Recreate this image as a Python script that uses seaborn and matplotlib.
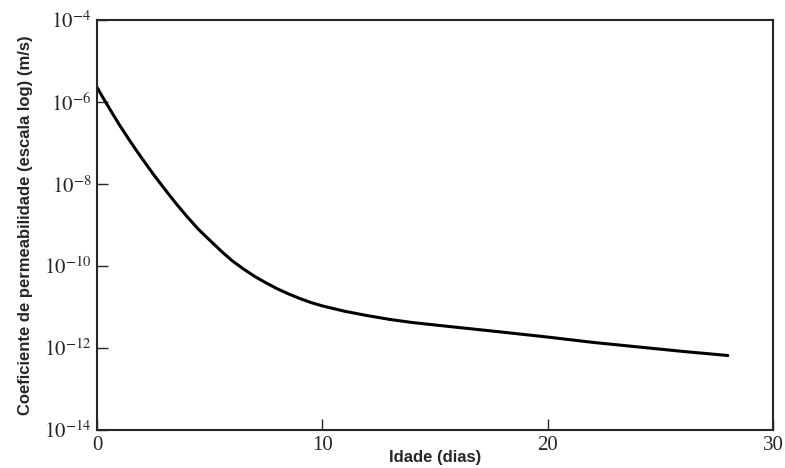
import numpy as np
import pandas as pd
import matplotlib
matplotlib.use("Agg")
import matplotlib.pyplot as plt
import seaborn as sns

sns.set_style("ticks")
plt.rcParams["font.family"] = ["Liberation Serif", "DejaVu Serif"]
plt.rcParams["mathtext.fontset"] = "stix"

# permeability vs age
idade_dias = [0, 0.25, 0.5, 0.75, 1, 1.25, 1.5, 1.75, 2, 2.5, 3, 3.5, 4, 4.5,
              5, 5.5, 6, 6.5, 7, 7.5, 8, 8.5, 9, 9.5, 10, 11, 12, 13, 14,
              16, 18, 20, 22, 24, 26, 28]
permeabilidade = [2.3e-6, 1.32e-6, 7.8e-7, 4.6e-7, 2.75e-7, 1.7e-7, 1.05e-7,
                  6.6e-8, 4.2e-8, 1.74e-8, 7.6e-9, 3.4e-9, 1.6e-9, 7.9e-10,
                  4.3e-10, 2.35e-10, 1.35e-10, 8.5e-11, 5.6e-11, 3.9e-11,
                  2.8e-11, 2.1e-11, 1.62e-11, 1.29e-11, 1.07e-11, 7.9e-12,
                  6.2e-12, 5.0e-12, 4.2e-12, 3.2e-12, 2.45e-12, 1.86e-12,
                  1.38e-12, 1.07e-12, 8.3e-13, 6.6e-13]

x_ticks = [0, 10, 20, 30]
y_ticks = [1e-14, 1e-12, 1e-10, 1e-8, 1e-6, 1e-4]
y_tick_labels = [r"$10^{-14}$", r"$10^{-12}$", r"$10^{-10}$",
                 r"$10^{-8}$", r"$10^{-6}$", r"$10^{-4}$"]

df = pd.DataFrame({"idade": idade_dias, "k": permeabilidade})

fig = plt.figure(figsize=(7.85, 4.68), dpi=100)
ax = fig.add_axes([0.1236, 0.081, 0.861, 0.876])

sns.lineplot(data=df, x="idade", y="k", ax=ax, color="black", linewidth=2.2)
for ln in ax.lines:
    ln.set_solid_joinstyle("round")
    ln.set_solid_capstyle("round")

ax.set_yscale("log")
ax.set_xlim(0, 30)
ax.set_ylim(1e-14, 1e-4)
ax.set_xticks(x_ticks)
ax.set_xticklabels([str(t) for t in x_ticks])
ax.set_yticks(y_ticks)
ax.set_yticklabels(y_tick_labels)
ax.minorticks_off()
ax.tick_params(direction="in", length=8, width=1, labelsize=15, pad=4)

for s in ax.spines.values():
    s.set_linewidth(1.5)
    s.set_visible(True)

ax.set_xlabel("Idade (dias)", family=["Liberation Sans", "DejaVu Sans"],
              fontsize=12, fontweight="bold", labelpad=-3)
ax.set_ylabel("Coeficiente de permeabilidade (escala log) (m/s)",
              family=["Liberation Sans", "DejaVu Sans"],
              fontsize=12, fontweight="bold", labelpad=8)

fig.savefig("out.png", dpi=100)
